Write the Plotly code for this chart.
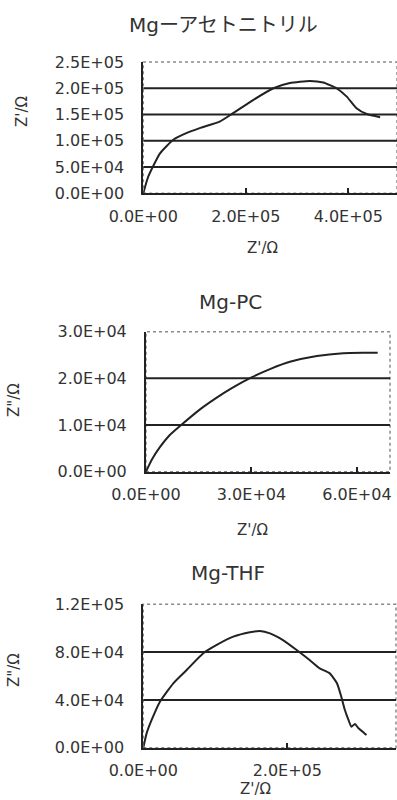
import plotly.graph_objects as go

# ---------------- data ----------------
# Mg - acetonitrile
acn_x = [0, 9.8e3, 3.26e4, 5.85e4, 8.5e4, 1.1e5, 1.5e5, 1.76e5, 2.15e5, 2.54e5,
         2.86e5, 3.25e5, 3.51e5, 3.77e5, 3.97e5, 4.16e5, 4.36e5, 4.62e5]
acn_y = [0, 3.2e4, 7.6e4, 1.02e5, 1.15e5, 1.24e5, 1.37e5, 1.53e5, 1.78e5, 2.0e5,
         2.1e5, 2.14e5, 2.11e5, 2.0e5, 1.84e5, 1.62e5, 1.51e5, 1.45e5]
# Mg - PC
pc_x = [0, 1.6e3, 3.9e3, 6.7e3, 1.0e4, 1.51e4, 1.98e4, 2.44e4, 3.0e4, 3.56e4,
        4.12e4, 4.86e4, 5.61e4, 6.17e4, 6.59e4]
pc_y = [0, 2.5e3, 5.2e3, 7.8e3, 1.0e4, 1.32e4, 1.57e4, 1.79e4, 2.02e4, 2.21e4,
        2.36e4, 2.48e4, 2.54e4, 2.55e4, 2.55e4]
# Mg - THF
thf_x = [0, 4.6e3, 1.16e4, 2.31e4, 4.17e4, 6.02e4, 8.33e4, 1.02e5, 1.25e5, 1.48e5,
         1.62e5, 1.76e5, 1.94e5, 2.13e5, 2.31e5, 2.45e5, 2.59e5, 2.69e5, 2.75e5,
         2.80e5, 2.85e5, 2.89e5, 2.94e5, 2.99e5, 3.06e5, 3.10e5]
thf_y = [0, 1.2e4, 2.32e4, 3.85e4, 5.39e4, 6.5e4, 7.9e4, 8.6e4, 9.29e4, 9.66e4,
         9.77e4, 9.57e4, 9.01e4, 8.18e4, 7.34e4, 6.64e4, 6.22e4, 5.39e4, 4.27e4,
         3.15e4, 2.32e4, 1.76e4, 1.98e4, 1.62e4, 1.28e4, 1.06e4]

titles = ["Mgーアセトニトリル", "Mg-PC", "Mg-THF"]
x_titles = ["Z'/Ω", "Z'/Ω", "Z'/Ω"]
y_titles = ["Z'/Ω", "Z\"/Ω", "Z\"/Ω"]

acn_xticks = [0, 2e5, 4e5]
acn_xlabels = ["0.0E+00", "2.0E+05", "4.0E+05"]
acn_yticks = [0, 5e4, 1e5, 1.5e5, 2e5, 2.5e5]
acn_ylabels = ["0.0E+00", "5.0E+04", "1.0E+05", "1.5E+05", "2.0E+05", "2.5E+05"]
acn_grid = [5e4, 1e5, 1.5e5, 2e5]

pc_xticks = [0, 3e4, 6e4]
pc_xlabels = ["0.0E+00", "3.0E+04", "6.0E+04"]
pc_yticks = [0, 1e4, 2e4, 3e4]
pc_ylabels = ["0.0E+00", "1.0E+04", "2.0E+04", "3.0E+04"]
pc_grid = [1e4, 2e4]

thf_xticks = [0, 2e5]
thf_xlabels = ["0.0E+00", "2.0E+05"]
thf_yticks = [0, 4e4, 8e4, 1.2e5]
thf_ylabels = ["0.0E+00", "4.0E+04", "8.0E+04", "1.2E+05"]
thf_grid = [4e4, 8e4]

# ---------------- layout helpers ----------------
W, H = 397, 800
TXT = "#333333"
LINE = "#222222"
FONT = "DejaVu Sans, Noto Sans CJK JP, sans-serif"

def px_x(p):
    return p / W

def px_y(p):
    return 1 - p / H

panels = [
    dict(x=acn_x, y=acn_y, xt=acn_xticks, xl=acn_xlabels, yt=acn_yticks, yl=acn_ylabels,
         grid=acn_grid, xr=[0, 4.95e5], yr=[0, 2.5e5],
         dom_x=(143.3, 397), dom_y=(62, 193.3),
         title_pos=(223, 25), xt_pos=(262, 248), yt_pos=(22, 112)),
    dict(x=pc_x, y=pc_y, xt=pc_xticks, xl=pc_xlabels, yt=pc_yticks, yl=pc_ylabels,
         grid=pc_grid, xr=[0, 6.94e4], yr=[0, 3e4],
         dom_x=(146, 390), dom_y=(331.7, 471.7),
         title_pos=(230, 302), xt_pos=(252, 530), yt_pos=(14, 400)),
    dict(x=thf_x, y=thf_y, xt=thf_xticks, xl=thf_xlabels, yt=thf_yticks, yl=thf_ylabels,
         grid=thf_grid, xr=[0, 3.51e5], yr=[0, 1.2e5],
         dom_x=(143.3, 396), dom_y=(604.3, 747.7),
         title_pos=(228, 573), xt_pos=(255, 789), yt_pos=(14, 670)),
]

fig = go.Figure()
layout = dict(
    width=W, height=H, margin=dict(l=0, r=0, t=0, b=0, autoexpand=False),
    paper_bgcolor="white", plot_bgcolor="white", showlegend=False,
    font=dict(family=FONT, color=TXT, size=16),
)
shapes = []
annotations = []

for i, p in enumerate(panels, start=1):
    xa = "x" if i == 1 else f"x{i}"
    ya = "y" if i == 1 else f"y{i}"
    fig.add_trace(go.Scatter(x=p["x"], y=p["y"], mode="lines",
                             line=dict(color=LINE, width=2, shape="spline", smoothing=0.5),
                             xaxis=xa, yaxis=ya, hoverinfo="skip", cliponaxis=False))
    xkey = "xaxis" if i == 1 else f"xaxis{i}"
    ykey = "yaxis" if i == 1 else f"yaxis{i}"
    layout[xkey] = dict(
        domain=[px_x(p["dom_x"][0]), px_x(p["dom_x"][1])], anchor=ya,
        range=p["xr"], tickmode="array", tickvals=p["xt"], ticktext=p["xl"],
        showgrid=False, zeroline=False, showline=True, linecolor=LINE, linewidth=2,
        ticks="inside", ticklen=5, tickwidth=2, tickcolor=LINE, automargin=False,
        ticklabelstandoff=7, tickfont=dict(size=16, color=TXT, family=FONT),
        fixedrange=True,
    )
    layout[ykey] = dict(
        domain=[px_y(p["dom_y"][1]), px_y(p["dom_y"][0])], anchor=xa,
        range=p["yr"], tickmode="array", tickvals=p["yt"], ticktext=p["yl"],
        showgrid=False, zeroline=False, showline=True, linecolor=LINE, linewidth=2,
        ticks="", ticklabelstandoff=14, tickfont=dict(size=16, color=TXT, family=FONT),
        automargin=False, fixedrange=True,
    )
    # plot frame (light top / right border)
    shapes.append(dict(type="rect", xref=f"{xa} domain", yref=f"{ya} domain",
                       x0=0, x1=1, y0=0, y1=1, line=dict(color="#8a8a8a", width=1.5, dash="dot"),
                       layer="below"))
    # horizontal grid lines
    for g in p["grid"]:
        shapes.append(dict(type="line", xref=f"{xa} domain", yref=ya,
                           x0=0, x1=1, y0=g, y1=g, line=dict(color=LINE, width=2),
                           layer="below"))
    tx, ty = p["title_pos"]
    annotations.append(dict(text=titles[i - 1], x=px_x(tx), y=px_y(ty), xref="paper", yref="paper",
                            showarrow=False, xanchor="center", yanchor="middle",
                            font=dict(size=20, color=TXT, family=FONT)))
    ax, ay = p["xt_pos"]
    annotations.append(dict(text=x_titles[i - 1], x=px_x(ax), y=px_y(ay), xref="paper", yref="paper",
                            showarrow=False, xanchor="center", yanchor="middle",
                            font=dict(size=15, color=TXT, family=FONT)))
    bx, by = p["yt_pos"]
    annotations.append(dict(text=y_titles[i - 1], x=px_x(bx), y=px_y(by), xref="paper", yref="paper",
                            showarrow=False, xanchor="center", yanchor="middle", textangle=-90,
                            font=dict(size=15, color=TXT, family=FONT)))

layout["shapes"] = shapes
layout["annotations"] = annotations
fig.update_layout(**layout)
fig.write_html("out.html")
